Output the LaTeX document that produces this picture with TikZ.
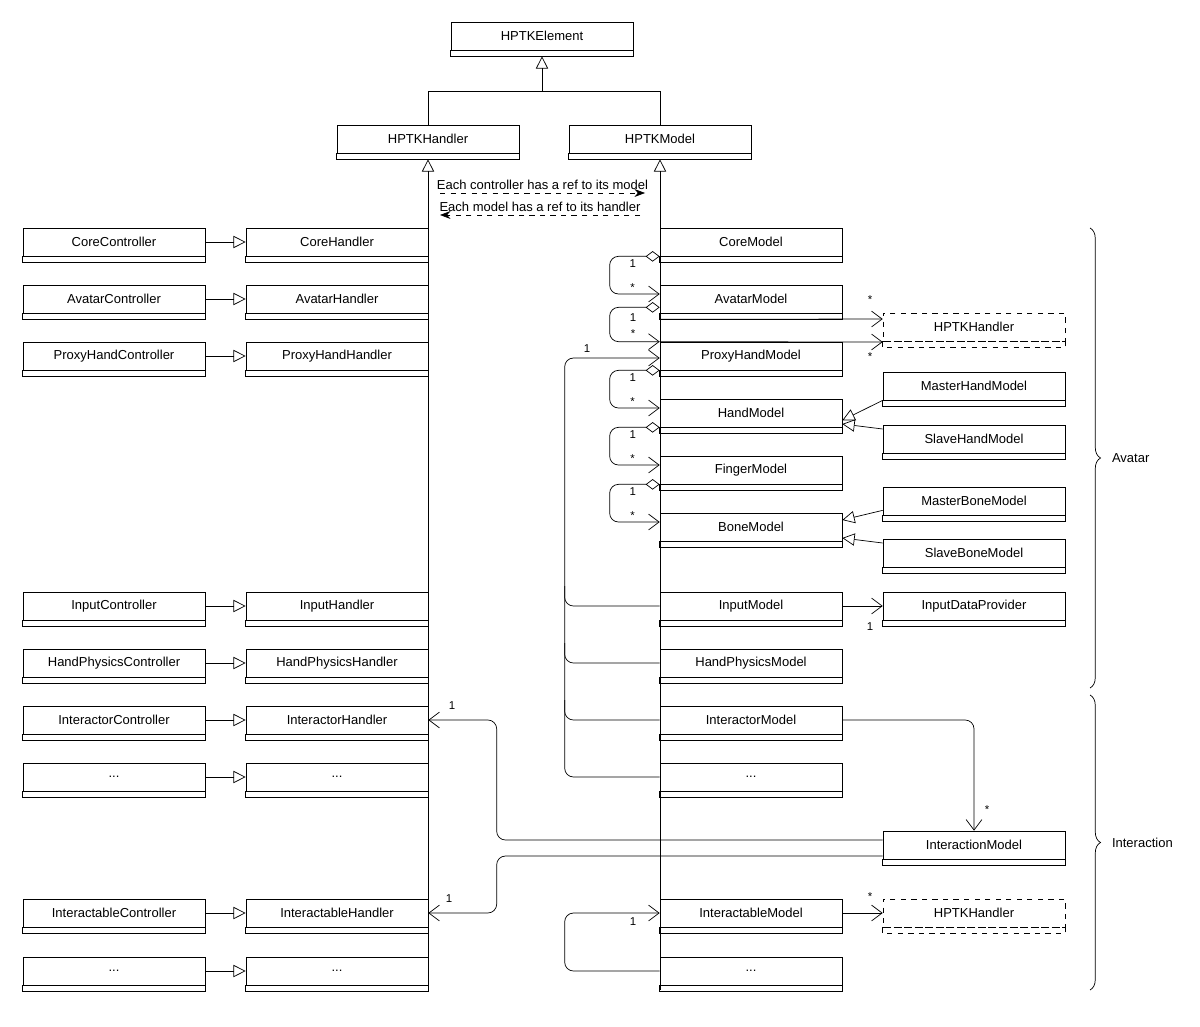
\documentclass[tikz,border=0pt]{standalone}
\usepackage{fontspec}
\setmainfont{Liberation Sans}
\usetikzlibrary{arrows.meta, decorations.pathreplacing}

\begin{document}
\begin{tikzpicture}[x = 0.02cm, y = -0.02cm, font = \fontsize{7.4}{9}\selectfont,
	cls/.style = {rectangle, draw, fill = white, minimum width = 3.64cm, minimum height = 0.56cm, inner sep = 0pt,
		append after command = {\pgfextra{\draw[#1] (\tikzlastnode.south west) rectangle ([yshift = -0.12cm]\tikzlastnode.south east);}}},
	cls/.default = {},
	inh/.style = {-{Triangle[open, length = 7pt, width = 7pt]}},
	assoc/.style = {-{Straight Barb[length = 6pt, width = 9pt]}},
	agg/.style = {{Diamond[open, length = 8pt, width = 6pt]}-{Straight Barb[length = 6pt, width = 9pt]}, rounded corners = 5pt},
	mult/.style = {font = \fontsize{6.5}{8}\selectfont, inner sep = 1pt}]

	\useasboundingbox (0, 0) rectangle (1200, 1027);

	% Base classes

	\node[cls] (hElem) at (542, 36) {HPTKElement};
	\node[cls] (hHandler) at (428, 139) {HPTKHandler};
	\node[cls] (hModel) at (660, 139) {HPTKModel};

	\draw[inh] (hHandler.north) -- ++(0, -33) -| ([yshift = -0.12cm]hElem.south);
	\draw (hModel.north) -- ++(0, -33) -- ++(-118, 0);

	% Controllers and handlers

	\foreach \name/\y in {Core/242, Avatar/299, ProxyHand/356, Input/606, HandPhysics/663, Interactor/720, Interactable/913}
	{
		\node[cls] (c\name) at (114, \y) {\name Controller};
		\node[cls] (h\name) at (337, \y) {\name Handler};
		\draw[inh] (c\name) -- (h\name);
	}
	\foreach \name/\y in {DotsA/777, DotsB/971}
	{
		\node[cls] (c\name) at (114, \y) {...};
		\node[cls] (h\name) at (337, \y) {...};
		\draw[inh] (c\name) -- (h\name);
	}

	% Models

	\foreach \name/\y in {Core/242, Avatar/299, ProxyHand/356, Hand/413, Finger/470, Bone/527, Input/606, HandPhysics/663, Interactor/720, Interactable/913}
		\node[cls] (m\name) at (751, \y) {\name Model};
	\node[cls] (mDotsA) at (751, 777) {...};
	\node[cls] (mDotsB) at (751, 971) {...};

	% Right column

	\node[cls = dashed, dashed] (hRefA) at (974, 327) {HPTKHandler};
	\node[cls] (mMasterHand) at (974, 386) {MasterHandModel};
	\node[cls] (mSlaveHand) at (974, 439) {SlaveHandModel};
	\node[cls] (mMasterBone) at (974, 501) {MasterBoneModel};
	\node[cls] (mSlaveBone) at (974, 553) {SlaveBoneModel};
	\node[cls] (pInputData) at (974, 606) {InputDataProvider};
	\node[cls] (mInteraction) at (974, 845) {InteractionModel};
	\node[cls = dashed, dashed] (hRefB) at (974, 913) {HPTKHandler};

	% Hierarchy lines

	\coordinate (hEnd) at (428, 990);
	\coordinate (mEnd) at (660, 990);
	\draw[inh] (hEnd) -- ([yshift = -0.12cm]hHandler.south);
	\draw[inh] (mEnd) -- ([yshift = -0.12cm]hModel.south);

	% Notes

	\coordinate (noteA) at (440, 193);
	\coordinate (noteB) at (645, 193);
	\coordinate (noteC) at (640, 215);
	\coordinate (noteD) at (440, 215);
	\draw[dashed, -{Stealth[length = 6pt]}] (noteA) -- node[above, inner sep = 2pt] {Each controller has a ref to its model} (noteB);
	\draw[dashed, -{Stealth[length = 6pt]}] (noteC) -- node[above, inner sep = 2pt] {Each model has a ref to its handler} (noteD);

	% Aggregations

	\foreach \a/\b in {Core/Avatar, ProxyHand/Hand, Hand/Finger, Finger/Bone}
	{
		\draw[agg] (m\a.south west) -- ++(-50, 0) |- ([yshift = 0.1cm]m\b.west);
		\node[mult] at ([xshift = -0.54cm, yshift = -0.14cm]m\a.south west) {1};
		\node[mult] at ([xshift = -0.54cm, yshift = 0.22cm]m\b.west) {*};
	}
	\draw[agg] ([yshift = 0.12cm]mAvatar.south west) -- ++(-50, 0) |- (mProxyHand.north west);
	\node[mult] at (633, 318) {1};
	\node[mult] at (633, 334) {*};

	% References to handlers

	\draw[assoc] ([yshift = -0.12cm]mAvatar.south west) -- ([yshift = 0.16cm]hRefA.west);
	\draw[assoc] (mProxyHand.north west) -- ([yshift = -0.3cm]hRefA.west);
	\node[mult] at (870, 300) {*};
	\node[mult] at (870, 357) {*};

	% Proxy hand links

	\draw[assoc, rounded corners = 5pt] (mDotsA.west) -| ([xshift = -1.9cm, yshift = -0.04cm]mProxyHand.west) -- ([yshift = -0.04cm]mProxyHand.west);
	\foreach \name in {Input, HandPhysics, Interactor}
		\draw[rounded corners = 5pt] (m\name.west) -- ++(-95, 0) -- ++(0, -20);
	\node[mult] at (587, 349) {1};

	% Subclasses

	\draw[inh] (mMasterHand.south west) -- ([yshift = 0.14cm]mHand.south east);
	\draw[inh] ([yshift = 0.2cm]mSlaveHand.west) -- ([yshift = -0.22cm]mHand.east);
	\draw[inh] ([yshift = 0.1cm]mMasterBone.south west) -- ([yshift = 0.14cm]mBone.east);
	\draw[inh] ([yshift = 0.2cm]mSlaveBone.west) -- ([yshift = -0.22cm]mBone.east);

	% Other associations

	\draw[assoc] (mInput) -- (pInputData);
	\node[mult] at (870, 627) {1};
	\draw[assoc, rounded corners = 5pt] (mInteractor.east) -| (mInteraction.north);
	\node[mult] at (987, 810) {*};
	\draw[assoc, rounded corners = 5pt] ([yshift = 0.1cm]mInteraction.west) -- ++(-386, 0) |- (hInteractor.east);
	\node[mult] at (452, 706) {1};
	\draw[assoc, rounded corners = 5pt] ([yshift = -0.22cm]mInteraction.west) -- ++(-386, 0) |- (hInteractable.east);
	\node[mult] at (449, 899) {1};
	\draw[assoc] (mInteractable) -- (hRefB);
	\node[mult] at (870, 897) {*};
	\draw[assoc, rounded corners = 5pt] (mDotsB.west) -| ([xshift = -1.9cm]mInteractable.west) -- (mInteractable.west);
	\node[mult] at (633, 922) {1};

	% Groups

	\draw[decorate, decoration = {brace, amplitude = 6pt}] (1090, 228) -- node[right = 9pt] {Avatar} (1090, 688);
	\draw[decorate, decoration = {brace, amplitude = 6pt}] (1090, 695) -- node[right = 9pt] {Interaction} (1090, 990);

\end{tikzpicture}
\end{document}
